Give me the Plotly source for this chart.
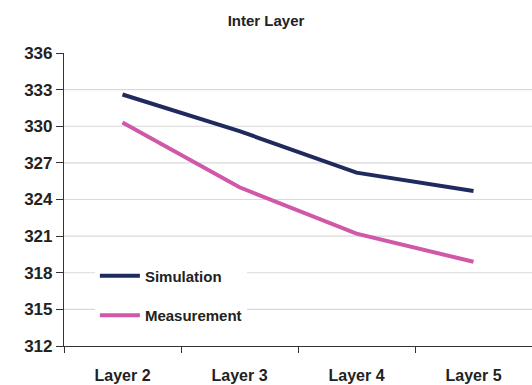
import plotly.graph_objects as go

# Chart data
layers = ["Layer 2", "Layer 3", "Layer 4", "Layer 5"]
simulation = [332.6, 329.6, 326.2, 324.7]
measurement = [330.3, 325.0, 321.2, 318.9]
y_ticks = [312, 315, 318, 321, 324, 327, 330, 333, 336]

NAVY = "#1f2a5e"
PINK = "#cf58a8"
FONT = "Liberation Sans, Arial, sans-serif"

fig = go.Figure()
fig.add_trace(go.Scatter(x=layers, y=simulation, mode="lines", name="Simulation",
                         legendgroup="sim",
                         line=dict(color=NAVY, width=4)))
fig.add_trace(go.Scatter(x=layers, y=measurement, mode="lines", name="Measurement",
                         legendgroup="meas",
                         line=dict(color=PINK, width=4)))

# Horizontal gridlines (inner ticks only; none at the top edge)
for v in y_ticks[1:-1]:
    fig.add_shape(type="line", xref="paper", x0=0, x1=1, yref="y", y0=v, y1=v,
                  line=dict(color="#d9d9d9", width=1.2), layer="below")

fig.update_layout(
    width=532, height=385,
    margin=dict(l=64, r=0, t=53, b=39),
    paper_bgcolor="white", plot_bgcolor="white",
    title=dict(text="<b>Inter Layer</b>", x=0.5, xanchor="center", y=0.946, yanchor="middle",
               font=dict(family=FONT, size=15, color="#222")),
    font=dict(family=FONT, color="#222"),
    showlegend=True,
    legend=dict(x=0.066, y=0.295, xanchor="left", yanchor="top",
                bgcolor="white", traceorder="grouped", tracegroupgap=17,
                font=dict(family=FONT, size=15, color="#222", weight="bold"),
                itemwidth=40),
)
fig.update_xaxes(
    range=[-0.5, 3.5], showgrid=False, showline=True, linecolor="#333", linewidth=1.2,
    ticks="outside", tickson="boundaries", ticklen=6, tickcolor="#333",
    ticklabelstandoff=15,
    tickfont=dict(family=FONT, size=16, color="#222", weight="bold"),
    fixedrange=True,
)
fig.update_yaxes(
    range=[312, 336], tickvals=y_ticks, showgrid=False, zeroline=False,
    showline=True, linecolor="#333", linewidth=1.2,
    ticks="outside", ticklen=7, tickcolor="#333",
    tickfont=dict(family=FONT, size=17, color="#222", weight="bold"),
    fixedrange=True,
)

fig.write_html("out.html")
